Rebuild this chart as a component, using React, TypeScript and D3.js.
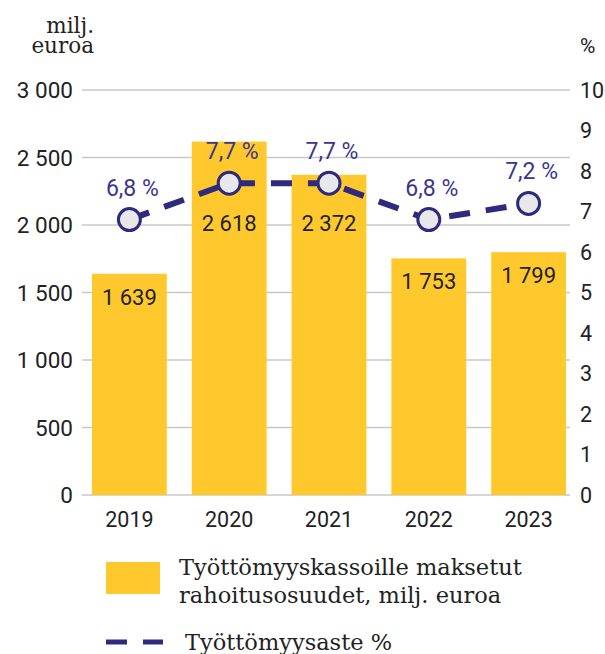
import React from 'react'
import * as d3 from 'd3'

// data
const years = ['2019', '2020', '2021', '2022', '2023']
const funding = [1639, 2618, 2372, 1753, 1799] // milj. euroa
const unemployment = [6.8, 7.7, 7.7, 6.8, 7.2] // %
const leftTicks = [0, 500, 1000, 1500, 2000, 2500, 3000]
const rightTicks = [0, 1, 2, 3, 4, 5, 6, 7, 8, 9, 10]

const W = 605
const H = 654
const top = 90
const bottom = 495
const left = 80
const right = 578

const BAR = '#FFC92E'
const NAVY = '#2E2A7E'
const LABEL_NAVY = '#3A368F'
const INK = '#222222'
const GRID = '#C8C8C8'
const SANS = 'Roboto, sans-serif'
const SLAB = '"DejaVu Serif", serif'

const fi = d3.formatLocale({
    decimal: ',',
    thousands: ' ',
    grouping: [3],
    currency: ['', ' €'],
})
const fmtInt = fi.format(',d')
const fmtPct = (v: number) => fi.format('.1f')(v) + ' %'

const App = () => {
    const x = d3
        .scaleBand()
        .domain(years)
        .range([left, right])
        .paddingInner(0.25)
        .paddingOuter(0.12)

    const yL = d3.scaleLinear().domain([0, 3000]).range([bottom, top])
    const yR = d3.scaleLinear().domain([0, 10]).range([bottom, top])

    const cx = (i: number) => (x(years[i]) as number) + x.bandwidth() / 2

    const line = d3
        .line<number>()
        .x((d, i) => cx(i))
        .y(d => yR(d))

    return (
        <svg
            width={W}
            height={H}
            style={{ position: 'absolute', left: 0, top: 0, background: '#fff' }}
        >
            {/* axis titles */}
            <text x={94} y={33} fontFamily={SLAB} fontSize={21.5} fill={INK} textAnchor='end'>
                milj.
            </text>
            <text x={94} y={53} fontFamily={SLAB} fontSize={21.5} fill={INK} textAnchor='end'>
                euroa
            </text>
            <text x={580} y={53} fontFamily={SANS} fontSize={21} fill={INK}>%</text>

            {/* grid */}
            {leftTicks.map(t => (
                <line
                    key={t}
                    x1={82}
                    x2={570}
                    y1={yL(t)}
                    y2={yL(t)}
                    stroke={GRID}
                    strokeWidth={1.5}
                />
            ))}

            {/* left axis labels */}
            {leftTicks.map(t => (
                <text
                    key={t}
                    x={73}
                    y={yL(t)}
                    dy='0.36em'
                    textAnchor='end'
                    fontFamily={SANS}
                    fontSize={22.5}
                    fill={INK}
                >
                    {fmtInt(t)}
                </text>
            ))}

            {/* right axis labels */}
            {rightTicks.map(t => (
                <text
                    key={t}
                    x={580}
                    y={yR(t)}
                    dy='0.36em'
                    fontFamily={SANS}
                    fontSize={21.5}
                    fill={INK}
                >
                    {t}
                </text>
            ))}

            {/* bars */}
            {funding.map((v, i) => (
                <rect
                    key={years[i]}
                    x={x(years[i])}
                    y={yL(v)}
                    width={x.bandwidth()}
                    height={bottom - yL(v)}
                    fill={BAR}
                />
            ))}

            {/* bar value labels */}
            {funding.map((v, i) => {
                const yy = Math.max(yL(v) + 23, yR(unemployment[i]) + 40)
                return (
                    <text
                        key={years[i]}
                        x={cx(i)}
                        y={yy}
                        dy='0.36em'
                        textAnchor='middle'
                        fontFamily={SANS}
                        fontSize={22}
                        fill={INK}
                    >
                        {fmtInt(v)}
                    </text>
                )
            })}

            {/* x labels */}
            {years.map((yr, i) => (
                <text
                    key={yr}
                    x={cx(i)}
                    y={527}
                    textAnchor='middle'
                    fontFamily={SANS}
                    fontSize={21.5}
                    fill={INK}
                >
                    {yr}
                </text>
            ))}

            {/* unemployment line */}
            <path
                d={line(unemployment) || ''}
                fill='none'
                stroke={NAVY}
                strokeWidth={6}
                strokeDasharray='21 16'
            />
            {unemployment.map((v, i) => (
                <circle
                    key={years[i]}
                    cx={cx(i)}
                    cy={yR(v)}
                    r={11}
                    fill='#E8E8EA'
                    stroke={NAVY}
                    strokeWidth={3}
                />
            ))}
            {unemployment.map((v, i) => (
                <text
                    key={years[i]}
                    x={cx(i) + 3}
                    y={yR(v) - 24}
                    textAnchor='middle'
                    fontFamily={SANS}
                    fontSize={23}
                    fill={LABEL_NAVY}
                >
                    {fmtPct(v)}
                </text>
            ))}

            {/* legend */}
            <rect x={106} y={562} width={54} height={32} fill={BAR} />
            <text x={179} y={575} fontFamily={SLAB} fontSize={22.5} fill={INK}>
                Työttömyyskassoille maksetut
            </text>
            <text x={179} y={603} fontFamily={SLAB} fontSize={22.5} fill={INK}>
                rahoitusosuudet, milj. euroa
            </text>
            <line x1={106} x2={127} y1={642} y2={642} stroke={NAVY} strokeWidth={5} />
            <line x1={143} x2={163} y1={642} y2={642} stroke={NAVY} strokeWidth={5} />
            <text x={185} y={650} fontFamily={SLAB} fontSize={22.5} fill={INK}>
                Työttömyysaste %
            </text>
        </svg>
    )
}

export default App
